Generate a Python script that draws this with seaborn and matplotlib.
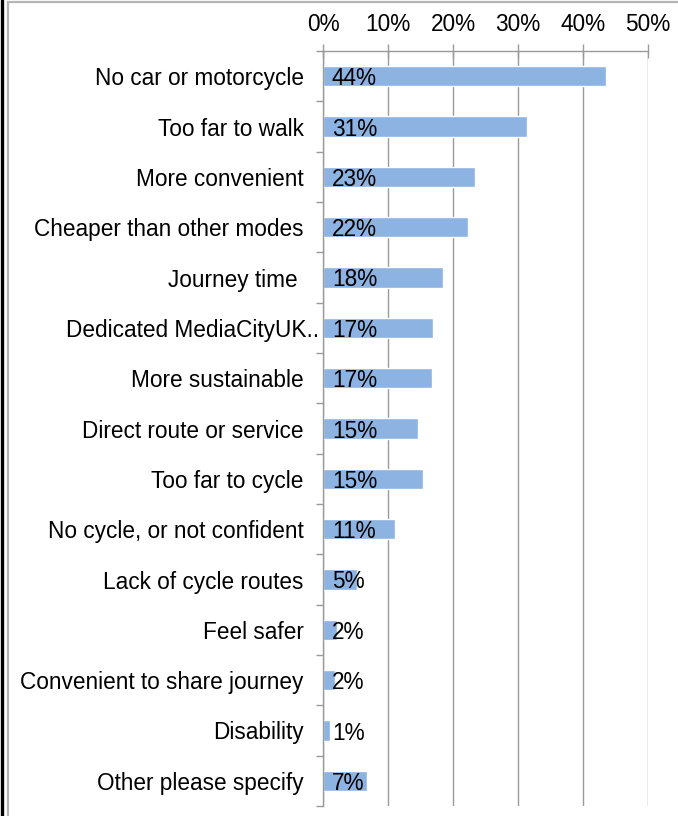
import matplotlib
matplotlib.use("Agg")
import matplotlib.pyplot as plt
import matplotlib.transforms as mtransforms
from matplotlib.patches import Rectangle
from matplotlib.lines import Line2D
import seaborn as sns
import pandas as pd

# Reasons for choosing the mode of travel, share of respondents (%)
reasons = [
    "No car or motorcycle",
    "Too far to walk",
    "More convenient",
    "Cheaper than other modes",
    "Journey time ",
    "Dedicated MediaCityUK..",
    "More sustainable",
    "Direct route or service",
    "Too far to cycle",
    "No cycle, or not confident",
    "Lack of cycle routes",
    "Feel safer",
    "Convenient to share journey",
    "Disability",
    "Other please specify",
]
shares = [43.6, 31.4, 23.4, 22.3, 18.4, 16.9, 16.8, 14.6, 15.4, 11.1, 5.2, 2.2, 1.8, 1.1, 6.8]
x_ticks = [0, 10, 20, 30, 40, 50]
x_tick_labels = ["0%", "10%", "20%", "30%", "40%", "50%"]

df = pd.DataFrame({"reason": reasons, "share": shares})

sns.set_theme(style="white")
plt.rcParams["font.family"] = ["Liberation Sans", "DejaVu Sans"]

FS = 16.3
W, H = 678, 816
fig = plt.figure(figsize=(W / 100, H / 100), dpi=100)
fig.patch.set_facecolor("white")

# chart frame
fig.add_artist(Rectangle((8 / W, -0.01), 1.0, 1.01 - 2 / H, transform=fig.transFigure,
                         fill=False, edgecolor="#B5B5B5", linewidth=1.6))
fig.add_artist(Line2D([1.5 / W, 1.5 / W], [0, 1], transform=fig.transFigure,
                      color="black", linewidth=2.4))

top, bottom = 51, 806
ax = fig.add_axes([323 / W, (H - bottom) / H, 325 / W, (bottom - top) / H])
ax.set_axisbelow(True)

bar_color = "#8DB3E2"
sns.barplot(data=df, x="share", y="reason", color=bar_color, saturation=1,
            width=0.4, ax=ax, orient="h", zorder=2)

ax.set_xlim(0, 50)
ax.set_ylim(len(reasons) - 0.5, -0.5)
ax.set_xlabel("")
ax.set_ylabel("")

grey = "#9A9A9A"
ax.xaxis.tick_top()
ax.set_xticks(x_ticks)
ax.set_xticklabels(x_tick_labels)
ax.tick_params(axis="x", direction="inout", length=10, width=1, color=grey,
               pad=6, labelsize=FS, labelcolor="black")
ax.grid(axis="x", color=grey, linewidth=1, zorder=0)
ax.grid(axis="y", visible=False)

# category labels at bar centres, boundary ticks between categories
ax.set_yticks(range(len(reasons)))
ax.set_yticklabels(reasons)
ax.tick_params(axis="y", which="major", length=0, pad=14, labelsize=FS,
               labelcolor="black")
ax.set_yticks([i - 0.5 for i in range(len(reasons) + 1)], minor=True)
ax.tick_params(axis="y", which="minor", direction="out", length=5, width=1,
               color=grey, left=True)

# the truncated label spills a little further toward the axis
long_label = ax.get_yticklabels()[5]
long_label.set_transform(long_label.get_transform() +
                         mtransforms.ScaledTranslation(15 / 100, 0, fig.dpi_scale_trans))

for side in ["right", "bottom"]:
    ax.spines[side].set_visible(False)
for side in ["top", "left"]:
    ax.spines[side].set_color(grey)
    ax.spines[side].set_linewidth(1)

# value labels at the base of each bar
for i, v in enumerate(shares):
    ax.annotate(f"{v:.0f}%", xy=(0, i), xytext=(9, 0), textcoords="offset pixels",
                ha="left", va="center_baseline", fontsize=FS, color="black", zorder=3)

fig.savefig("out.png", dpi=100, facecolor="white")
